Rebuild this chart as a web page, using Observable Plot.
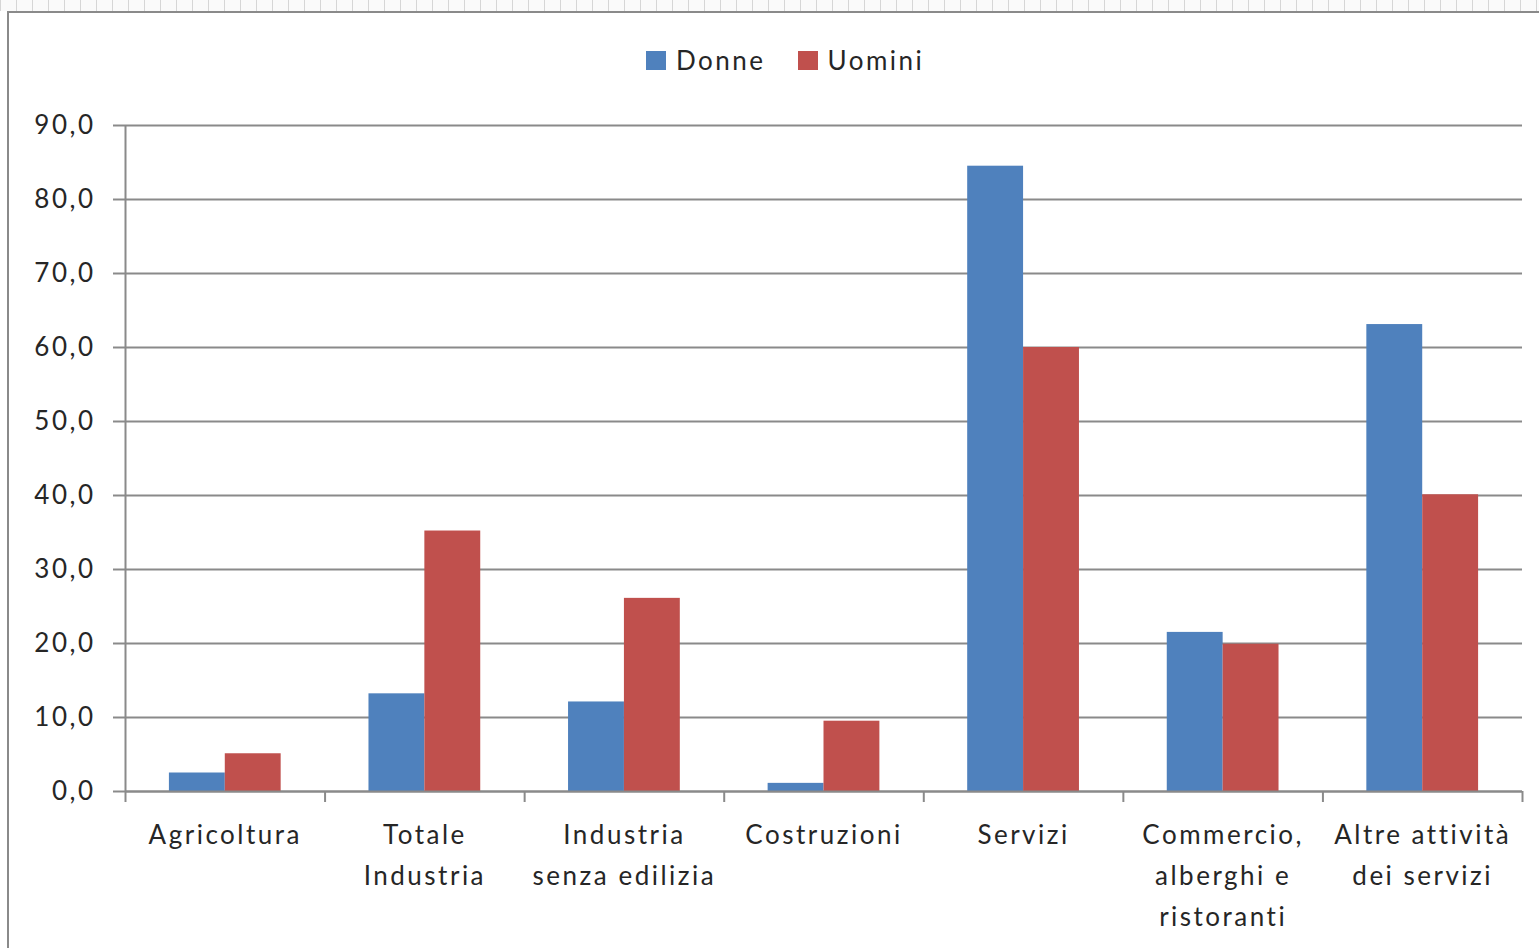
<!DOCTYPE html>
<html>
<head>
<meta charset="utf-8">
<script src="https://cdn.jsdelivr.net/npm/d3@7"></script>
<script src="https://cdn.jsdelivr.net/npm/@observablehq/plot@0.6"></script>
<style>
  html, body { margin: 0; padding: 0; background: #fff; width: 1539px; height: 948px; overflow: hidden; }
  #ruler { position: absolute; left: 0; top: 0; width: 1539px; height: 11px;
    background: repeating-linear-gradient(to right, #d6d6d6 0 1px, #fafafa 1px 16px); }
  #frame { position: absolute; left: 7px; top: 11px; width: 1600px; height: 1000px;
    border-left: 2px solid #8a8a8a; border-top: 2px solid #8a8a8a; background: #fff; }
  #chart { position: absolute; left: 0; top: 0; }
  #legend { position: absolute; top: 44px; left: 646px; display: flex; align-items: center;
    font-family: Lato, sans-serif; font-size: 26px; letter-spacing: 2.5px; color: #262626; }
  .item { display: flex; align-items: center; margin-right: 32px; }
  .sw { width: 20px; height: 19px; margin-right: 10px; }
</style>
</head>
<body>
<div id="ruler"></div>
<div id="frame"></div>
<div id="chart"></div>
<div id="legend"></div>
<script>
const categories = ["Agricoltura", "Totale\nIndustria", "Industria\nsenza edilizia", "Costruzioni", "Servizi", "Commercio,\nalberghi e\nristoranti", "Altre attività\ndei servizi"];
const series = ["Donne", "Uomini"];
const donne = [2.5, 13.2, 12.1, 1.1, 84.5, 21.5, 63.1];
const uomini = [5.1, 35.2, 26.1, 9.5, 60.0, 19.9, 40.1];
const colors = ["#4F81BD", "#C0504D"];
const yTicks = [0, 10, 20, 30, 40, 50, 60, 70, 80, 90];

const rows = categories.flatMap((c, i) => [
  {i, cat: c, serie: series[0], value: donne[i]},
  {i, cat: c, serie: series[1], value: uomini[i]}
]);

const gridColor = "#8a8a8a";
const fmt = d => d.toFixed(1).replace(".", ",");

const chart = Plot.plot({
  width: 1539,
  height: 948,
  marginLeft: 125,
  marginRight: 17,
  marginTop: 125,
  marginBottom: 157,
  style: {fontFamily: "Lato, sans-serif", fontSize: "26px", letterSpacing: "2.5px", color: "#262626", background: "transparent"},
  x: {type: "linear", domain: [0, categories.length], axis: null},
  y: {domain: [0, 90], axis: null},
  color: {domain: series, range: colors},
  marks: [
    Plot.ruleY(yTicks, {stroke: gridColor, strokeWidth: 2, strokeOpacity: 1}),
    Plot.rectY(rows, {
      x1: d => d.i + (d.serie === series[0] ? 0.22 : 0.5),
      x2: d => d.i + (d.serie === series[0] ? 0.5 : 0.78),
      y1: 0, y2: "value", fill: "serie"
    }),
    Plot.ruleY([0], {stroke: gridColor, strokeWidth: 2}),
    Plot.ruleX([0], {y1: 0, y2: 90, stroke: gridColor, strokeWidth: 2}),
    Plot.axisY({ticks: yTicks, tickSize: 12, tickPadding: 18, tickFormat: fmt, stroke: gridColor, strokeWidth: 2, strokeOpacity: 1, fill: "#262626", label: null}),
    Plot.axisX({ticks: d3.range(0, categories.length + 1), tickSize: 11, tickFormat: () => "", stroke: gridColor, strokeWidth: 2, strokeOpacity: 1, label: null}),
    Plot.text(categories, {x: (d, i) => i + 0.5, y: 0, dy: 23, text: d => d, lineAnchor: "top", lineHeight: 1.58, fill: "#262626", textAnchor: "middle"})
  ]
});
document.getElementById("chart").append(chart);

const legend = document.getElementById("legend");
series.forEach((s, k) => {
  const item = document.createElement("div");
  item.className = "item";
  const sw = document.createElement("span");
  sw.className = "sw";
  sw.style.background = colors[k];
  const t = document.createElement("span");
  t.textContent = s;
  item.append(sw, t);
  legend.append(item);
});
</script>
</body>
</html>
